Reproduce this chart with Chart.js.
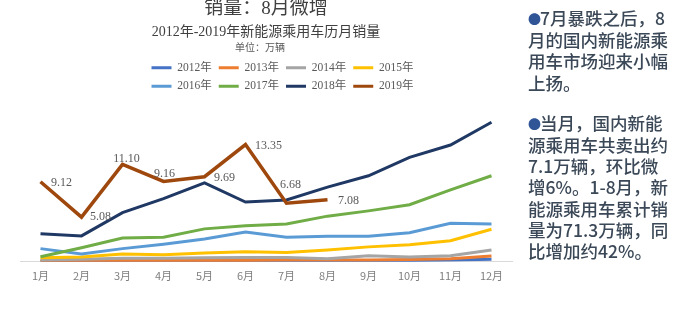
<!DOCTYPE html>
<html><head><meta charset="utf-8">
<script src="https://cdn.jsdelivr.net/npm/chart.js@4/dist/chart.umd.min.js"></script>
<style>
html,body{margin:0;padding:0;background:#fff;width:700px;height:334px;overflow:hidden}
#wrap{position:absolute;left:0;top:0;width:530px;height:334px}
#notes{position:absolute;left:528px;top:7px;width:172px;font-family:"Noto Sans CJK SC",sans-serif;font-size:17.5px;font-weight:500;line-height:21.2px;color:#3b4857;white-space:nowrap}
#notes .b{color:#2f5597;font-size:13px;display:inline-block;width:12px;vertical-align:1px}
#notes p{margin:0}
#notes p+p{margin-top:19px}
</style></head><body>
<div id="wrap"><canvas id="c" width="530" height="334"></canvas></div>
<div id="notes">
<p><span class="b">●</span>7月暴跌之后，8<br>月的国内新能源乘<br>用车市场迎来小幅<br>上扬。</p>
<p><span class="b">●</span>当月，国内新能<br>源乘用车共卖出约<br>7.1万辆，环比微<br>增6%。1-8月，新<br>能源乘用车累计销<br>量为71.3万辆，同<br>比增加约42%。</p>
</div>
<script>
const titleText = '销量：8月微增';
const subtitleText = '2012年-2019年新能源乘用车历月销量';
const unitText = '单位：万辆';
const months = ['1月','2月','3月','4月','5月','6月','7月','8月','9月','10月','11月','12月'];
const years = ['2012年','2013年','2014年','2015年','2016年','2017年','2018年','2019年'];
const s2012 = [0.05,0.05,0.1,0.1,0.1,0.1,0.1,0.1,0.15,0.15,0.2,0.3];
const s2013 = [0.1,0.1,0.15,0.15,0.15,0.15,0.2,0.2,0.2,0.25,0.35,0.65];
const s2014 = [0.2,0.3,0.4,0.4,0.45,0.5,0.5,0.35,0.7,0.55,0.7,1.35];
const s2015 = [0.45,0.55,0.9,0.8,1.0,1.15,1.05,1.35,1.7,1.95,2.4,3.7];
const s2016 = [1.5,0.9,1.5,2.0,2.6,3.4,2.8,2.9,2.9,3.3,4.4,4.3];
const s2017 = [0.57,1.6,2.7,2.8,3.75,4.1,4.3,5.2,5.8,6.5,8.2,9.8];
const s2018 = [3.2,2.95,5.6,7.2,9.0,6.8,7.05,8.5,9.8,11.9,13.3,15.9];
const s2019 = [9.12,5.08,11.10,9.16,9.69,13.35,6.68,7.08,null,null,null,null];
const series = [s2012,s2013,s2014,s2015,s2016,s2017,s2018,s2019];

const colors = ['#4472c4','#ed7d31','#a5a5a5','#ffc000','#5b9bd5','#70ad47','#1f3864','#9e480e'];
const labelOffsets = [[21,1],[19,0],[4,-5],[1,-8],[20,1],[23,1],[4,-18],[21,1]];
const serifFont = '"Liberation Serif","Noto Sans CJK SC",serif';
const cjkFont = '"Noto Sans CJK SC",sans-serif';

const valueLabels = {
  id: 'valueLabels',
  afterDatasetsDraw(chart) {
    const idx = years.length - 1;
    const meta = chart.getDatasetMeta(idx);
    const ctx = chart.ctx;
    ctx.save();
    ctx.font = '12px ' + serifFont;
    ctx.fillStyle = '#595959';
    ctx.textAlign = 'center';
    ctx.textBaseline = 'middle';
    meta.data.forEach((pt, i) => {
      const v = s2019[i];
      if (v === null || v === undefined) return;
      const off = labelOffsets[i] || [0, -10];
      ctx.fillText(v.toFixed(2), pt.x + off[0], pt.y + off[1]);
    });
    ctx.restore();
  }
};

const unitLabel = {
  id: 'unitLabel',
  afterDraw(chart) {
    const ctx = chart.ctx;
    ctx.save();
    ctx.font = '10px ' + cjkFont;
    ctx.fillStyle = '#595959';
    ctx.textAlign = 'center';
    ctx.textBaseline = 'middle';
    ctx.fillText(unitText, 260, 47);
    ctx.restore();
  }
};

const legendLayout = {
  id: 'legendLayout',
  afterLayout(chart) {
    const lg = chart.legend;
    if (!lg) return;
    lg.left = 135; lg.right = 430; lg.width = 295;
  }
};

const chart = new Chart(document.getElementById('c'), {
  type: 'line',
  data: {
    labels: months,
    datasets: years.map((y, i) => ({
      label: y,
      data: series[i],
      borderColor: colors[i],
      backgroundColor: colors[i],
      borderWidth: i === 7 ? 3.5 : 3,
      pointRadius: 0,
      pointHoverRadius: 0,
      tension: 0,
      fill: false,
      spanGaps: false,
      order: 8 - i
    }))
  },
  options: {
    responsive: false,
    animation: false,
    events: [],
    layout: { padding: { left: 20, right: 18, top: 0, bottom: 45 } },
    plugins: {
      tooltip: { enabled: false },
      title: {
        display: true, text: titleText, color: '#404040',
        font: { family: serifFont, size: 19, weight: 'normal', lineHeight: 1 },
        padding: { top: 0, bottom: 6 }
      },
      subtitle: {
        display: true, text: subtitleText, color: '#404040',
        font: { family: serifFont, size: 14, weight: 'normal', lineHeight: 1 },
        padding: { top: 0, bottom: 16 }
      },
      legend: {
        display: true, position: 'top',
        labels: {
          boxWidth: 20, boxHeight: 3, padding: 7, color: '#595959',
          font: { family: serifFont, size: 11.5 },
          sort: (a, b) => a.datasetIndex - b.datasetIndex,
          generateLabels: (ch) => Chart.defaults.plugins.legend.labels.generateLabels(ch).map(it => { it.lineWidth = 0; it.fillStyle = colors[it.datasetIndex]; return it; })
        }
      }
    },
    scales: {
      x: {
        offset: true,
        grid: { display: false, drawTicks: false },
        border: { display: true, color: '#d9d9d9', width: 1 },
        ticks: { color: '#7f7f7f', padding: 7, font: { family: cjkFont, size: 11 } }
      },
      y: { display: false, min: 0, max: 18.2 }
    }
  },
  plugins: [valueLabels, unitLabel, legendLayout]
});
Object.defineProperty(chart.legend, 'maxWidth', { get() { return 300; }, set(v) {}, configurable: true });
chart.update();
</script>
</body></html>
